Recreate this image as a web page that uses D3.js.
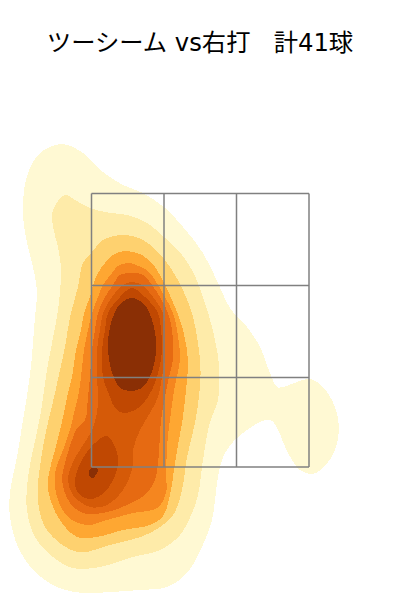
<!DOCTYPE html>
<html>
<head>
<meta charset="utf-8">
<script src="https://cdn.jsdelivr.net/npm/d3@7"></script>
<style>
html, body { margin: 0; padding: 0; background: #fff; }
svg { display: block; }
</style>
</head>
<body>
<svg id="chart" width="400" height="600"></svg>
<script>
var titleText = "ツーシーム vs右打   計41球";

// pitch location, cm from the lower left corner of the plot
var zoneX = [18.3, 32.8, 47.3, 61.8];
var zoneY = [26.6, 44.5, 62.9, 81.3];

var levelColors = ["#fff9d3", "#feeba9", "#fed16f", "#fea732", "#f5861f", "#e66a12", "#d55a08", "#c04802", "#8a2f05"];

// density contours, lowest level first
var level1 = [[12.4,91.2],[16.6,89.4],[20.6,85.6],[24.6,83],[28.6,81.4],[33,78.4],[36.6,74.6],[40.6,69.4],[43.6,63.4],[46,58.4],[49.4,54.6],[52,50.6],[54,45.4],[55.4,42.6],[56.6,42.6],[59.4,43.6],[62,44.2],[64.6,42.6],[67,38.6],[67.8,34.4],[67,30],[64.6,26.4],[62.4,25.2],[60,26],[57.6,29.4],[55.6,34],[54.4,35.8],[53,36],[50,34.4],[46.6,31.6],[44.6,28.6],[43.6,24.6],[43,20],[42.4,16],[41,12],[37.4,5.4],[33.4,2.6],[28,2],[22,1.6],[16.6,1.4],[11.4,2.6],[6.6,6],[3.6,10.6],[2,16.6],[2,21.4],[3.4,28.6],[4.6,36],[6,45],[7,56.6],[7.4,62],[6.4,67.4],[5,73.4],[4.6,79.4],[5.6,85.4],[8,89.4]];
var level2 = [[13,81],[15,80],[18,78.4],[22,77.4],[25.6,77],[29.4,75.4],[33,72.4],[35.6,70],[38.4,66],[41,59.4],[43,52],[43.8,47],[43.6,40],[42,35.6],[40.6,28],[39.6,21],[38.4,17.4],[36,13],[32,10],[26.6,8.6],[20,6.6],[14.6,6.4],[10.6,8.6],[7,12.6],[5.4,18],[5.6,24.6],[8,36.6],[9.4,46],[10.4,51.4],[11.6,58],[12.2,66],[11.6,70.6],[10.6,74.6],[10.6,78]];
var level3 = [[24.6,73],[28.6,72],[31.6,69.6],[34,66.6],[36.6,62],[38.6,56.6],[40,48],[40,42.6],[39,35.4],[37.4,28.6],[36.4,22],[34.6,17],[30,13.4],[22,11],[15.4,9.6],[9.4,14],[7.6,20],[8.6,30.6],[11,41.4],[12,46],[13,50.6],[14,56.6],[15.6,62.6],[16.6,67.4],[18.4,69.6],[20.6,72]];
var level4 = [[25,69.8],[28.4,69],[31,66.6],[33,63],[35,58.6],[36.6,54],[37.6,48],[37.2,42],[36.5,36],[35.6,31],[34.8,26],[34,21],[32.6,16.8],[30,15],[24.6,14],[19.4,12.6],[15.4,12.6],[11.6,16.6],[9.6,22],[9.8,25.4],[11,30],[12,34],[12.8,37.4],[13.4,40.6],[14.4,44.6],[15.2,50],[16.2,54],[16.8,57.4],[18,60.6],[18.6,63],[19.6,65.4],[21,67.4],[22.6,69]];
var level5 = [[25.6,67.4],[28.6,66.4],[30,65.4],[31.6,63],[33,60.6],[34.6,57.4],[35.4,54],[36,48],[35.2,44],[34.6,40.6],[34,36],[33.6,33],[33.4,30],[33.2,25.4],[33.2,21.4],[31.4,18.4],[26.6,17.4],[21.4,16],[17.4,15],[13.6,16.6],[11.4,20.6],[11,25.4],[12.6,30],[14,34],[14.8,37.4],[15.6,40.6],[16.2,44.6],[16.8,50],[17.6,54],[18.4,57.4],[19.6,60.6],[20.6,63],[22.4,65.4],[23.6,66.8]];
var level6 = [[26.6,65.4],[28.6,65],[30.4,63],[32,60.6],[33.6,57.4],[34.4,54],[34.6,48],[33.8,44.6],[33,40.6],[32.2,36],[32,33],[31.6,27.4],[31,24],[29.4,21.4],[25.4,19],[20.6,17.4],[16.6,17.4],[14,19.4],[12.4,24],[13,27.4],[14.4,32],[15.2,34],[17,36],[17.6,40.6],[18,44.6],[18.4,50],[19,54],[19.6,57.4],[21,60.6],[22.6,63],[24,65]];
var level7 = [[26.4,63.6],[28.4,63],[30.6,60.6],[32.6,57.4],[33,54],[33,48],[32.4,44.6],[31.6,40.6],[30,37.4],[28,34],[26.6,30],[26.4,26],[24.6,22],[21.4,19],[18,18.6],[14.6,21],[13.6,24],[14.6,27.6],[17,31.6],[18.4,34],[19.4,37.4],[19.6,40.6],[19.4,44.6],[19.4,50],[20,54],[20.6,57.4],[22.4,60.6],[24.6,63]];
var level8a = [[26.4,62.4],[29,60.6],[31.6,57.4],[32.2,54],[32.4,50],[31.4,44.6],[29.6,40.6],[27,38],[24.6,37.4],[23,38.4],[22,40.6],[20.6,44.6],[20.4,50],[21,54],[21.6,57.4],[24,60.6]];
var level8b = [[21.4,32.8],[22.8,31],[23.6,28.6],[23.4,26],[21,21.6],[18,20.2],[15.6,21.4],[15,24],[16.4,28],[19,31.4]];
var level9a = [[26.4,60.4],[28.6,59.4],[29.6,58],[30.8,54.6],[31.2,51],[30.8,47],[29.6,44],[28.4,42.4],[26.2,41.8],[24,42.4],[23,44],[22,47],[21.6,51],[22,54.6],[23.2,58],[24.2,59.4]];
var level9b = [[18,26.2],[19.6,26.2],[19.4,25.4],[18.6,24.4],[18,24.6]];

var contours = [
    {level: 0, points: level1},
    {level: 1, points: level2},
    {level: 2, points: level3},
    {level: 3, points: level4},
    {level: 4, points: level5},
    {level: 5, points: level6},
    {level: 6, points: level7},
    {level: 7, points: level8a},
    {level: 7, points: level8b},
    {level: 8, points: level9a},
    {level: 8, points: level9b}
];

var svg = d3.select("#chart");

var x = d3.scaleLinear().domain([0, 80]).range([0, 400]);
var y = d3.scaleLinear().domain([0, 120]).range([600, 0]);

var outline = d3.line()
    .x(function(d){ return x(d[0]); })
    .y(function(d){ return y(d[1]); })
    .curve(d3.curveCatmullRomClosed.alpha(0.5));

svg.selectAll("path.level")
    .data(contours)
    .enter()
    .append("path")
    .attr("class", "level")
    .attr("d", function(d){ return outline(d.points); })
    .attr("fill", function(d){ return levelColors[d.level]; })
    .attr("shape-rendering", "crispEdges");

// strike zone, drawn over the density
var grid = svg.append("g")
    .attr("stroke", "#808080")
    .attr("stroke-width", 1.5)
    .attr("fill", "none");

grid.selectAll("line.v")
    .data(zoneX)
    .enter()
    .append("line")
    .attr("class", "v")
    .attr("x1", function(d){ return x(d); })
    .attr("x2", function(d){ return x(d); })
    .attr("y1", y(zoneY[0]))
    .attr("y2", y(zoneY[3]));

grid.selectAll("line.h")
    .data(zoneY)
    .enter()
    .append("line")
    .attr("class", "h")
    .attr("x1", x(zoneX[0]))
    .attr("x2", x(zoneX[3]))
    .attr("y1", function(d){ return y(d); })
    .attr("y2", function(d){ return y(d); });

svg.append("text")
    .attr("x", 200)
    .attr("y", 51)
    .attr("text-anchor", "middle")
    .attr("font-family", "'DejaVu Sans', 'Noto Sans CJK JP', sans-serif")
    .attr("font-size", 24.3)
    .attr("fill", "#000")
    .style("white-space", "pre")
    .text(titleText);
</script>
</body>
</html>
